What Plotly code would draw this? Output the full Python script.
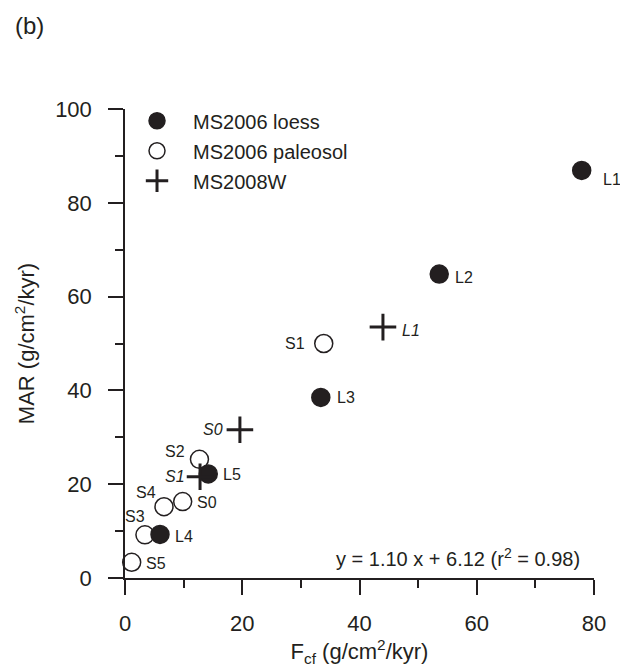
import plotly.graph_objects as go

# ---- data ----
loess_x = [77.9, 53.6, 33.4, 5.97, 14.2]
loess_y = [86.9, 64.8, 38.5, 9.3, 22.2]
loess_lab = ["L1", "L2", "L3", "L4", "L5"]

paleo_x = [9.84, 33.9, 12.7, 3.4, 6.65, 1.14]
paleo_y = [16.3, 50.0, 25.3, 9.2, 15.2, 3.35]
paleo_lab = ["S0", "S1", "S2", "S3", "S4", "S5"]

w08_x = [44.0, 19.6, 12.8]
w08_y = [53.5, 31.6, 21.6]
w08_lab = ["L1", "S0", "S1"]

x_ticks = [0, 20, 40, 60, 80]
y_ticks = [0, 20, 40, 60, 80, 100]
equation = "y = 1.10 x + 6.12 (r<sup>2</sup> = 0.98)"

# ---- label placement (style) ----
loess_pos = [("left", 19, -9), ("left", 14, -3), ("left", 14, 0), ("left", 13, -2), ("left", 13, -1)]
paleo_pos = [("left", 12, -1), ("right", -17, 0), ("right", -12, 8), ("right", 2, 18), ("right", -6, 14), ("left", 12, -1)]
w08_pos = [("left", 17, -3), ("right", -15, 0), ("right", -13, 0)]

INK = "#231f20"
FONT = "Liberation Sans, Arial, sans-serif"

fig = go.Figure()
fig.add_trace(go.Scatter(
    x=paleo_x, y=paleo_y, mode="markers", name="MS2006 paleosol", legendrank=2,
    legendgroup="b",
    marker=dict(symbol="circle", size=18, color="white", line=dict(color=INK, width=1.5)),
    cliponaxis=False))
fig.add_trace(go.Scatter(
    x=loess_x, y=loess_y, mode="markers", name="MS2006 loess", legendrank=1,
    legendgroup="a",
    marker=dict(symbol="circle", size=18, color=INK, line=dict(color=INK, width=1.5)),
    cliponaxis=False))
fig.add_trace(go.Scatter(
    x=w08_x, y=w08_y, mode="markers", name="MS2008W", legendrank=3,
    legendgroup="c",
    marker=dict(symbol="cross-thin", size=19, color=INK, line=dict(color=INK, width=3)),
    cliponaxis=False))

annotations = []
def add_labels(xs, ys, labs, pos, italic=False):
    for xv, yv, lab, (anc, dx, dy) in zip(xs, ys, labs, pos):
        annotations.append(dict(
            x=xv, y=yv, xref="x", yref="y", text=f"<i>{lab}</i>" if italic else lab,
            showarrow=False, xanchor=anc, yanchor="middle", xshift=dx, yshift=dy,
            font=dict(size=16, color=INK, family=FONT)))

add_labels(loess_x, loess_y, loess_lab, loess_pos)
add_labels(paleo_x, paleo_y, paleo_lab, paleo_pos)
add_labels(w08_x, w08_y, w08_lab, w08_pos, italic=True)

annotations.append(dict(
    x=0.974, y=0.043, xref="paper", yref="paper", text=equation, showarrow=False,
    xanchor="right", yanchor="middle", font=dict(size=20, color=INK, family=FONT)))
annotations.append(dict(
    x=-0.239, y=1.177, xref="paper", yref="paper", text="(b)", showarrow=False,
    xanchor="left", yanchor="middle", font=dict(size=24, color=INK, family=FONT)))

axis_common = dict(
    showline=True, linecolor=INK, linewidth=1.5, showgrid=False, zeroline=False,
    ticks="outside", ticklen=15, tickwidth=1.5, tickcolor=INK,
    minor=dict(ticks="outside", ticklen=8, tickwidth=1.5, tickcolor=INK, dtick=10, showgrid=False),
    tickfont=dict(size=22, color=INK, family=FONT),
    title_font=dict(size=22, color=INK, family=FONT),
    fixedrange=True, automargin=False,
)

fig.update_layout(
    width=620, height=670,
    margin=dict(l=125, r=26, t=109, b=92),
    paper_bgcolor="white", plot_bgcolor="white",
    font=dict(family=FONT, color=INK),
    showlegend=True,
    legend=dict(x=-0.0085, y=1.0164, xanchor="left", yanchor="top",
                bgcolor="rgba(0,0,0,0)", borderwidth=0, itemwidth=62,
                traceorder="grouped", tracegroupgap=1,
                font=dict(size=20, color=INK, family=FONT)),
    xaxis=dict(range=[0, 80], tickvals=x_ticks, ticktext=[str(v) for v in x_ticks],
               title=dict(text="F<sub>cf</sub> (g/cm<sup>2</sup>/kyr)", standoff=6),
               ticklabelstandoff=10, **axis_common),
    yaxis=dict(range=[0, 100], tickvals=y_ticks, ticktext=[str(v) for v in y_ticks],
               title=dict(text="MAR (g/cm<sup>2</sup>/kyr)", standoff=14),
               ticklabelstandoff=12, **axis_common),
    annotations=annotations,
)

fig.write_html(
    "out.html",
    config={"displayModeBar": False},
    post_script="document.body.style.margin='0px';document.documentElement.style.overflow='hidden';",
)
